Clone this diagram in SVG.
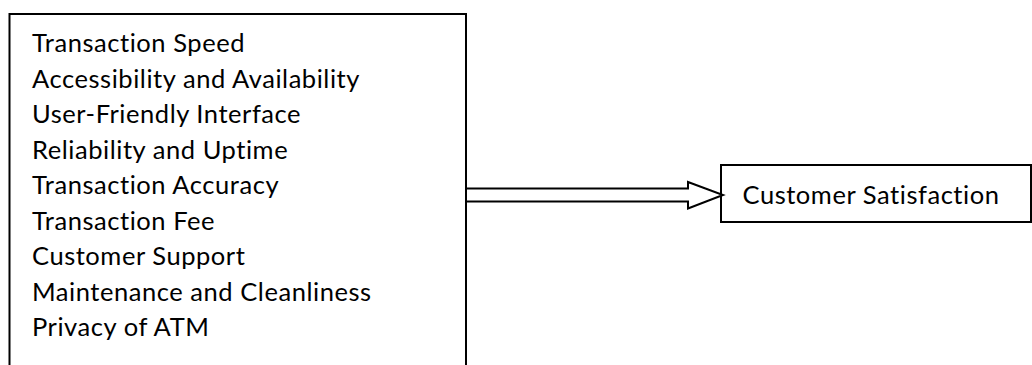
<svg xmlns="http://www.w3.org/2000/svg" width="1032" height="365" viewBox="0 0 1032 365">
<style>
.box{fill:#fff;stroke:#000;stroke-width:2}
.t{font-family:Lato,"Open Sans","Liberation Sans",sans-serif;font-size:25.5px;letter-spacing:0.55px;fill:#000}
</style>
<rect x="0" y="0" width="1032" height="365" fill="#fff"/>
<g id="factors">
<rect class="box" x="9.5" y="14" width="456.5" height="360"/>
<text class="t" x="32" y="52">Transaction Speed</text>
<text class="t" x="32" y="87.5">Accessibility and Availability</text>
<text class="t" x="32" y="123">User-Friendly Interface</text>
<text class="t" x="32" y="158.5">Reliability and Uptime</text>
<text class="t" x="32" y="194">Transaction Accuracy</text>
<text class="t" x="32" y="229.5">Transaction Fee</text>
<text class="t" x="32" y="265">Customer Support</text>
<text class="t" x="32" y="300.5">Maintenance and Cleanliness</text>
<text class="t" x="32" y="336">Privacy of ATM</text>
</g>
<g id="satisfaction">
<rect class="box" x="721" y="165" width="310" height="57"/>
<text class="t" x="742.5" y="204">Customer Satisfaction</text>
</g>
<g id="connectors">
<polygon points="466,188.5 688,188.5 688,182 723,195 688,208.5 688,201.5 466,201.5" fill="#fff" stroke="#000" stroke-width="2"/>
</g>
</svg>
